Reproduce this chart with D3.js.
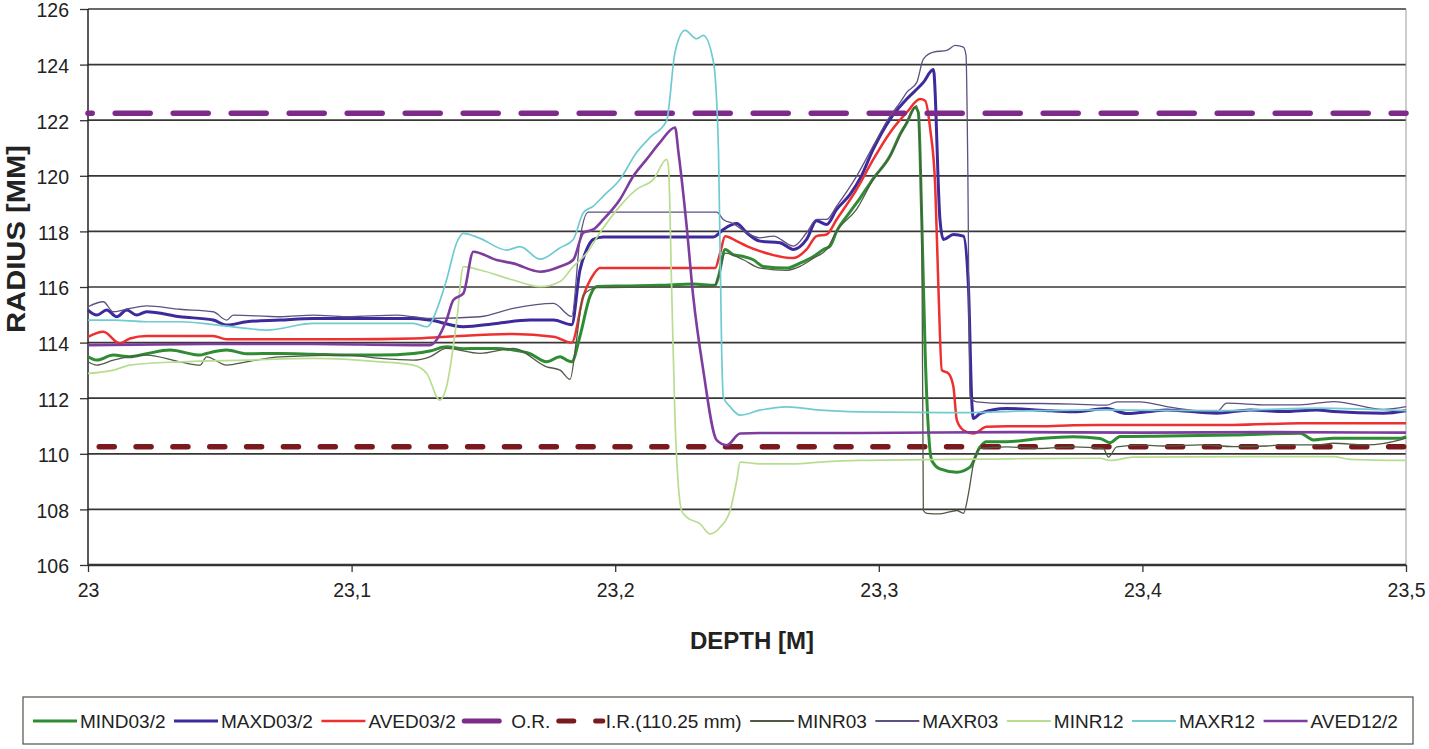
<!DOCTYPE html>
<html>
<head>
<meta charset="utf-8">
<script src="https://cdn.jsdelivr.net/npm/d3@7"></script>
<style>
  body { margin: 0; background: #fff; }
  text { font-family: "Liberation Sans", Arial, sans-serif; fill: #222; }
</style>
</head>
<body>
<svg id="chart" width="1429" height="749"></svg>
<script>
// [depth m, radius mm] pairs
const mind03 = [[23.0000,113.49],[23.0033,113.37],[23.0096,113.55],[23.0159,113.49],[23.0222,113.6],[23.0311,113.73],[23.0425,113.55],[23.0450,113.61],[23.0526,113.73],[23.0602,113.6],[23.0728,113.61],[23.0855,113.58],[23.0981,113.55],[23.1108,113.55],[23.1234,113.61],[23.1297,113.7],[23.1360,113.85],[23.1424,113.78],[23.1487,113.79],[23.1550,113.79],[23.1613,113.73],[23.1677,113.6],[23.1740,113.31],[23.1791,113.49],[23.1816,113.37],[23.1835,113.31],[23.1866,114.22],[23.1904,115.66],[23.1930,116.02],[23.2043,116.04],[23.2170,116.06],[23.2296,116.11],[23.2379,116.06],[23.2392,116.38],[23.2417,117.35],[23.2448,117.16],[23.2486,117.10],[23.2524,116.98],[23.2562,116.74],[23.2651,116.68],[23.2701,116.86],[23.2752,117.10],[23.2790,117.35],[23.2815,117.47],[23.2840,118.0],[23.2891,118.7],[23.2929,119.2],[23.2979,119.9],[23.3043,120.72],[23.3081,121.5],[23.3106,121.9],[23.3138,122.46],[23.3150,122.28],[23.3163,118.43],[23.3176,113.61],[23.3201,109.76],[23.3232,109.46],[23.3296,109.34],[23.3346,109.52],[23.3384,110.25],[23.3409,110.43],[23.3485,110.43],[23.3612,110.55],[23.3738,110.61],[23.3839,110.55],[23.3877,110.4],[23.3915,110.62],[23.4092,110.64],[23.4345,110.68],[23.4598,110.74],[23.4649,110.5],[23.4725,110.56],[23.4978,110.56],[23.5000,110.62]]

const maxd03 = [[23.0000,115.17],[23.0033,114.99],[23.0071,115.17],[23.0109,114.93],[23.0147,115.17],[23.0185,114.99],[23.0222,115.11],[23.0349,114.93],[23.0475,114.81],[23.0526,114.63],[23.0602,114.75],[23.0728,114.81],[23.0855,114.87],[23.1234,114.87],[23.1297,114.81],[23.1424,114.57],[23.1550,114.69],[23.1677,114.81],[23.1766,114.81],[23.1835,114.64],[23.1866,116.6],[23.1892,117.35],[23.1917,117.71],[23.1955,117.8],[23.2373,117.8],[23.2410,118.07],[23.2461,118.28],[23.2499,117.95],[23.2549,117.65],[23.2625,117.59],[23.2676,117.35],[23.2726,117.71],[23.2764,118.38],[23.2802,118.25],[23.2840,118.79],[23.2891,119.33],[23.2929,119.9],[23.2979,120.96],[23.3043,122.04],[23.3106,122.76],[23.3169,123.36],[23.3207,123.82],[23.3232,118.43],[23.3245,117.71],[23.3283,117.89],[23.3321,117.83],[23.3340,116.02],[23.3353,111.84],[23.3359,111.27],[23.3384,111.45],[23.3485,111.63],[23.3612,111.57],[23.3738,111.51],[23.3865,111.63],[23.3941,111.45],[23.4029,111.52],[23.4092,111.58],[23.4282,111.46],[23.4409,111.58],[23.4535,111.52],[23.4662,111.58],[23.4725,111.52],[23.4915,111.46],[23.5000,111.55]]

const aved03 = [[23.0000,114.21],[23.0058,114.39],[23.0121,113.97],[23.0159,114.15],[23.0222,114.24],[23.0475,114.24],[23.0526,114.12],[23.0728,114.12],[23.0981,114.12],[23.1234,114.15],[23.1360,114.21],[23.1613,114.31],[23.1766,114.21],[23.1835,114.0],[23.1879,115.66],[23.1917,116.44],[23.1942,116.68],[23.2379,116.68],[23.2398,117.22],[23.2417,117.83],[23.2461,117.65],[23.2499,117.47],[23.2549,117.29],[23.2676,117.04],[23.2726,117.35],[23.2764,117.83],[23.2802,117.89],[23.2840,118.43],[23.2916,119.51],[23.2979,120.59],[23.3043,121.56],[23.3106,122.28],[23.3157,122.76],[23.3176,122.7],[23.3195,121.68],[23.3214,119.63],[23.3226,116.02],[23.3239,113.01],[23.3264,112.89],[23.3283,112.41],[23.3296,111.21],[23.3321,110.85],[23.3359,110.73],[23.3409,110.97],[23.3485,110.99],[23.3612,110.99],[23.3738,111.03],[23.3839,111.04],[23.4092,111.04],[23.4345,111.04],[23.4598,111.1],[23.5000,111.1]]

const minr03 = [[23.0000,113.31],[23.0033,113.19],[23.0096,113.37],[23.0222,113.55],[23.0349,113.31],[23.0425,113.19],[23.0450,113.49],[23.0526,113.19],[23.0602,113.31],[23.0728,113.49],[23.0981,113.55],[23.1108,113.43],[23.1234,113.37],[23.1297,113.49],[23.1360,113.79],[23.1487,113.61],[23.1613,113.79],[23.1740,113.13],[23.1791,113.01],[23.1829,112.68],[23.1853,114.09],[23.1879,115.7],[23.1904,115.9],[23.1930,115.98],[23.2373,116.02],[23.2392,116.38],[23.2417,117.22],[23.2486,116.98],[23.2549,116.68],[23.2651,116.6],[23.2701,116.74],[23.2752,117.04],[23.2802,117.35],[23.2840,118.01],[23.2916,118.8],[23.2979,119.87],[23.3043,120.72],[23.3106,121.92],[23.3144,122.52],[23.3163,118.43],[23.3169,107.96],[23.3182,107.86],[23.3232,107.84],[23.3296,107.96],[23.3321,107.86],[23.3340,108.56],[23.3359,109.64],[23.3384,110.19],[23.3485,110.25],[23.3612,110.19],[23.3738,110.25],[23.3852,110.19],[23.3871,109.88],[23.3903,110.25],[23.3991,110.31],[23.4092,110.28],[23.4219,110.32],[23.4345,110.26],[23.4472,110.28],[23.4535,110.32],[23.4662,110.32],[23.4725,110.38],[23.4851,110.32],[23.4978,110.5],[23.5000,110.56]]

const maxr03 = [[23.0000,115.29],[23.0058,115.47],[23.0096,115.11],[23.0159,115.23],[23.0222,115.32],[23.0349,115.2],[23.0475,115.11],[23.0526,114.81],[23.0551,114.99],[23.0728,114.93],[23.0855,114.99],[23.0981,114.93],[23.1171,114.99],[23.1234,114.93],[23.1297,114.87],[23.1487,114.93],[23.1613,115.23],[23.1766,115.41],[23.1835,114.94],[23.1866,117.7],[23.1898,118.69],[23.2385,118.69],[23.2410,118.43],[23.2448,118.28],[23.2499,117.95],[23.2549,117.77],[23.2600,117.83],[23.2676,117.47],[23.2726,117.95],[23.2764,118.43],[23.2802,118.43],[23.2840,118.91],[23.2916,119.99],[23.2979,121.08],[23.3043,122.16],[23.3081,122.64],[23.3106,123.0],[23.3144,123.36],[23.3169,124.2],[23.3207,124.45],[23.3258,124.51],[23.3290,124.69],[23.3321,124.63],[23.3331,124.32],[23.3337,120.84],[23.3346,112.05],[23.3371,111.87],[23.3485,111.81],[23.3612,111.81],[23.3738,111.79],[23.3865,111.75],[23.3903,111.87],[23.3991,111.87],[23.4029,111.82],[23.4092,111.7],[23.4282,111.52],[23.4320,111.82],[23.4472,111.76],[23.4598,111.76],[23.4725,111.88],[23.4915,111.6],[23.5000,111.7]]

const minr12 = [[23.0000,112.89],[23.0096,113.01],[23.0159,113.19],[23.0349,113.31],[23.0602,113.37],[23.0855,113.43],[23.1108,113.31],[23.1234,113.19],[23.1285,112.89],[23.1335,111.93],[23.1360,112.41],[23.1399,114.81],[23.1424,116.73],[23.1487,116.61],[23.1613,116.25],[23.1715,116.01],[23.1791,116.2],[23.1841,116.74],[23.1892,117.22],[23.1942,117.95],[23.2018,118.91],[23.2081,119.51],[23.2145,119.87],[23.2195,120.59],[23.2202,120.35],[23.2214,116.02],[23.2227,111.21],[23.2252,107.96],[23.2271,107.72],[23.2322,107.48],[23.2360,107.12],[23.2398,107.36],[23.2436,107.96],[23.2461,109.04],[23.2474,109.7],[23.2549,109.64],[23.2676,109.64],[23.2777,109.7],[23.2929,109.76],[23.3500,109.82],[23.3839,109.84],[23.3877,109.76],[23.3966,109.88],[23.4725,109.9],[23.4788,109.8],[23.5000,109.76]]

const maxr12 = [[23.0000,114.81],[23.0096,114.81],[23.0222,114.75],[23.0349,114.75],[23.0475,114.65],[23.0602,114.51],[23.0677,114.45],[23.0855,114.69],[23.0981,114.69],[23.1234,114.69],[23.1285,114.57],[23.1335,115.5],[23.1360,116.25],[23.1399,117.6],[23.1424,117.93],[23.1487,117.75],[23.1588,117.33],[23.1639,117.45],[23.1715,117.0],[23.1791,117.41],[23.1841,117.71],[23.1879,118.67],[23.1917,118.91],[23.1955,119.27],[23.2018,119.87],[23.2081,120.84],[23.2132,121.38],[23.2195,121.98],[23.2227,124.45],[23.2265,125.23],[23.2309,124.93],[23.2334,125.05],[23.2373,124.08],[23.2392,120.84],[23.2404,113.61],[23.2410,112.05],[23.2436,111.69],[23.2474,111.39],[23.2549,111.57],[23.2651,111.69],[23.2777,111.57],[23.2929,111.51],[23.3300,111.48],[23.3600,111.55],[23.3839,111.58],[23.4300,111.55],[23.4662,111.64],[23.5000,111.55]]

const aved12 = [[23.0000,113.91],[23.0475,113.95],[23.0855,113.95],[23.1234,113.91],[23.1297,113.91],[23.1360,114.81],[23.1386,115.53],[23.1424,115.77],[23.1462,117.27],[23.1550,116.97],[23.1613,116.85],[23.1715,116.55],[23.1791,116.74],[23.1841,116.98],[23.1879,117.95],[23.1917,118.07],[23.1955,118.43],[23.2018,119.15],[23.2069,119.99],[23.2119,120.59],[23.2170,121.2],[23.2227,121.74],[23.2240,120.84],[23.2271,118.19],[23.2296,115.66],[23.2334,113.01],[23.2385,110.49],[23.2423,110.31],[23.2474,110.73],[23.2549,110.75],[23.2929,110.75],[23.3500,110.78],[23.4000,110.76],[23.4500,110.78],[23.5000,110.76]]

const outerRadius = 122.25
const innerRadius = 110.25

const xTicks = [23, 23.1, 23.2, 23.3, 23.4, 23.5]
const yTicks = [106, 108, 110, 112, 114, 116, 118, 120, 122, 124, 126]

const svg = d3.select('#chart')

const x = d3.scaleLinear().domain([23, 23.5]).range([88, 1406])
const y = d3.scaleLinear().domain([106, 126]).range([565, 9])

const comma = d3.formatLocale({decimal: ',', thousands: '.', grouping: [3], currency: ['', '']})
const fmt = v => comma.format('~g')(v)

// flat reference radii across the whole depth range
const flat = v => x.domain().map(d => [d, v])

const series = [
  {name: 'MIND03/2', data: mind03, color: '#2f8c33', width: 3},
  {name: 'MAXD03/2', data: maxd03, color: '#3d2a9c', width: 3},
  {name: 'AVED03/2', data: aved03, color: '#ee3030', width: 2.5},
  {name: 'O.R.', data: flat(outerRadius), color: '#7e2a8a', width: 5.5, dash: '35,23', offset: 30.8},
  {name: 'I.R.(110.25 mm)', data: flat(innerRadius), color: '#7a1a1e', width: 5.5, dash: '15,21.84', offset: 25.6},
  {name: 'MINR03', data: minr03, color: '#4f5a45', width: 1.3},
  {name: 'MAXR03', data: maxr03, color: '#5e5080', width: 1.3},
  {name: 'MINR12', data: minr12, color: '#b9dd90', width: 1.7},
  {name: 'MAXR12', data: maxr12, color: '#6fcbd0', width: 1.7},
  {name: 'AVED12/2', data: aved12, color: '#7d3c9e', width: 2.6}
]

// grid
svg.append('g')
  .selectAll('line')
  .data(yTicks.slice(1))
  .enter()
  .append('line')
  .attr('x1', x(23)).attr('x2', x(23.5))
  .attr('y1', d => y(d)).attr('y2', d => y(d))
  .attr('stroke', '#3a3636')
  .attr('stroke-width', 1.7)

svg.append('line')
  .attr('x1', x(23.5)).attr('x2', x(23.5))
  .attr('y1', y(126)).attr('y2', y(106))
  .attr('stroke', '#9a9a9a')
  .attr('stroke-width', 1)

// axes
const yAxis = svg.append('g')
  .attr('transform', `translate(${x(23)},0)`)
  .call(d3.axisLeft(y).tickValues(yTicks).tickSize(8).tickPadding(11).tickFormat(fmt))
svg.append('g')
  .attr('transform', `translate(0,${y(106)})`)
  .call(d3.axisBottom(x).tickValues(xTicks).tickSize(7).tickPadding(11).tickFormat(fmt))

svg.selectAll('.domain').remove()
svg.selectAll('.tick line').attr('stroke', '#333').attr('stroke-width', 1.3)
svg.selectAll('.tick text')
  .style('font-family', '"Liberation Sans", Arial, sans-serif')
  .style('font-size', '19.5px')
  .attr('fill', '#222')
yAxis.selectAll('.tick text').attr('dy', '0.4em')

svg.append('line')
  .attr('x1', x(23)).attr('x2', x(23))
  .attr('y1', y(126)).attr('y2', y(106))
  .attr('stroke', '#222').attr('stroke-width', 1.5)
svg.append('line')
  .attr('x1', x(23)).attr('x2', x(23.5))
  .attr('y1', y(106)).attr('y2', y(106))
  .attr('stroke', '#333').attr('stroke-width', 2.5)

// series
const line = d3.line()
  .x(d => x(d[0]))
  .y(d => y(d[1]))
  .curve(d3.curveMonotoneX)

svg.append('g')
  .selectAll('path')
  .data(series)
  .enter()
  .append('path')
  .attr('d', d => line(d.data))
  .attr('fill', 'none')
  .attr('stroke', d => d.color)
  .attr('stroke-width', d => d.width)
  .attr('stroke-linejoin', 'round')
  .attr('stroke-linecap', d => d.dash ? 'round' : 'butt')
  .attr('stroke-dasharray', d => d.dash || null)
  .attr('stroke-dashoffset', d => d.offset || 0)

// axis titles
svg.append('text')
  .attr('x', 752)
  .attr('y', 649)
  .attr('text-anchor', 'middle')
  .style('font-size', '24px')
  .style('font-weight', 'bold')
  .attr('fill', '#111')
  .text('DEPTH [M]')

svg.append('text')
  .attr('transform', 'translate(25,239) rotate(-90)')
  .attr('text-anchor', 'middle')
  .attr('textLength', 188)
  .attr('lengthAdjust', 'spacingAndGlyphs')
  .style('font-size', '25px')
  .style('font-weight', 'bold')
  .attr('fill', '#111')
  .text('RADIUS [MM]')

// legend
svg.append('rect')
  .attr('x', 23).attr('y', 697)
  .attr('width', 1390).attr('height', 47)
  .attr('fill', 'none')
  .attr('stroke', '#4d5546')
  .attr('stroke-width', 1.2)

const legend = svg.append('g')
let lx = 33
series.forEach(s => {
  legend.append('line')
    .attr('x1', lx).attr('x2', lx + 44)
    .attr('y1', 721).attr('y2', 721)
    .attr('stroke', s.color)
    .attr('stroke-width', s.dash ? 5 : Math.max(s.width, 2))
    .attr('stroke-linecap', s.dash ? 'round' : 'butt')
    .attr('stroke-dasharray', s.dash || null)
  const t = legend.append('text')
    .attr('x', lx + 47)
    .attr('y', 728)
    .style('font-size', '19px')
    .attr('fill', '#222')
    .text(s.name)
  lx += 47 + t.node().getComputedTextLength() + 8.5
})
</script>
</body>
</html>
